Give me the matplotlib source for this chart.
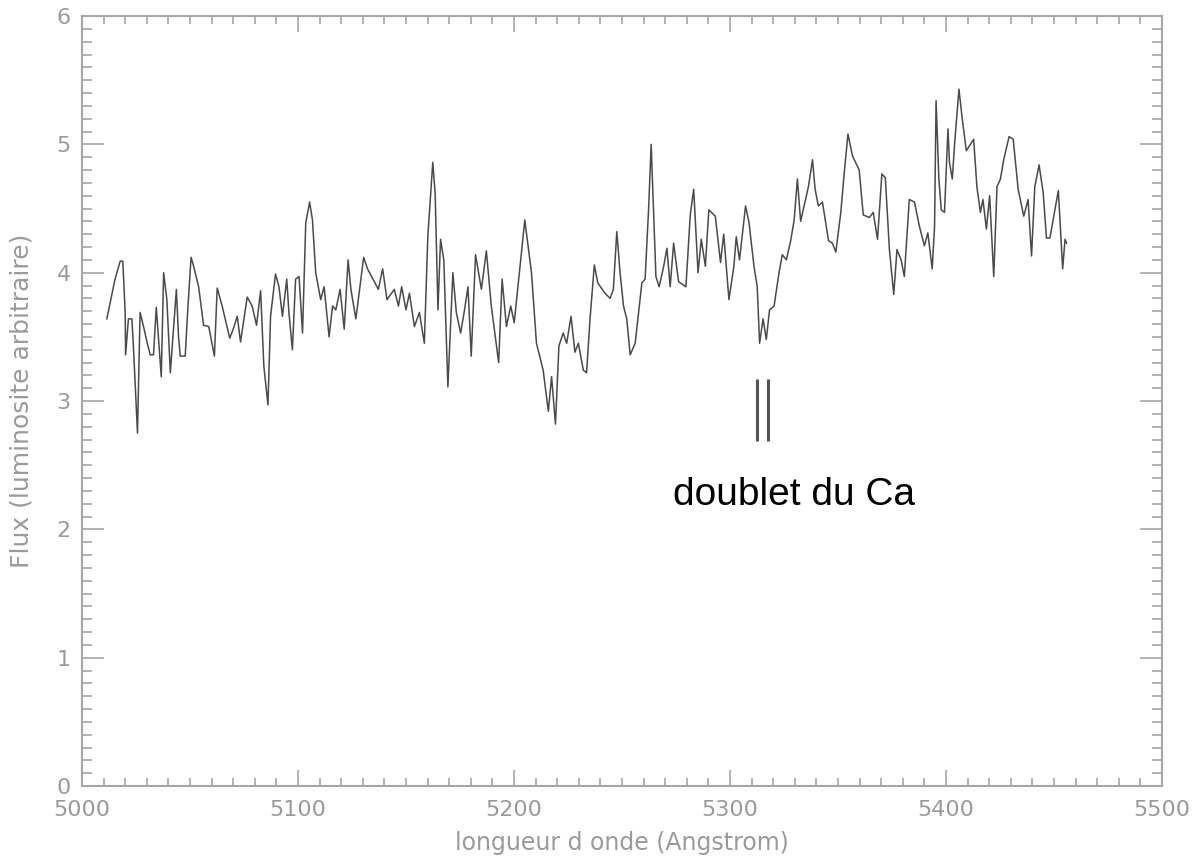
import matplotlib
matplotlib.use("Agg")
import matplotlib.pyplot as plt
from matplotlib.ticker import MultipleLocator

# Spectre (longueur d'onde en Angstrom, flux arbitraire)
longueur = [
    5011.5, 5015.3, 5017.7, 5018.9, 5020.0, 5020.2, 5021.5, 5023.1, 5023.8, 5025.7,
    5026.9, 5028.5, 5030.1, 5031.6, 5033.1, 5034.4, 5035.4, 5036.7, 5037.8, 5039.3,
    5040.9, 5043.7, 5044.7, 5045.5, 5047.8, 5048.9, 5050.5, 5051.7, 5054.0, 5056.3,
    5058.7, 5061.3, 5062.6, 5064.9, 5068.4, 5070.0, 5071.9, 5073.4, 5076.5, 5078.8,
    5080.8, 5082.7, 5084.2, 5086.1, 5087.3, 5089.6, 5091.2, 5092.8, 5094.8, 5095.8,
    5097.4, 5098.9, 5100.5, 5102.1, 5103.6, 5105.4, 5106.7, 5108.2, 5110.5, 5112.1,
    5114.4, 5116.0, 5117.5, 5119.5, 5121.4, 5123.2, 5124.5, 5126.8, 5130.4, 5132.2,
    5135.3, 5137.2, 5139.2, 5141.2, 5144.6, 5146.5, 5148.0, 5150.0, 5151.6, 5153.9,
    5156.2, 5158.5, 5160.1, 5162.4, 5163.5, 5164.8, 5166.0, 5167.5, 5169.4, 5171.7,
    5173.3, 5175.3, 5177.1, 5178.7, 5180.2, 5182.2, 5184.9, 5187.2, 5189.5, 5192.9,
    5194.5, 5196.5, 5198.5, 5200.1, 5202.2, 5205.0, 5208.1, 5210.4, 5213.5, 5215.9,
    5217.4, 5219.2, 5220.8, 5222.8, 5224.4, 5226.4, 5228.2, 5229.8, 5232.1, 5233.6,
    5235.2, 5237.2, 5238.8, 5242.1, 5244.5, 5246.0, 5247.6, 5249.1, 5250.7, 5252.2,
    5253.8, 5256.1, 5257.7, 5259.2, 5260.7, 5262.3, 5263.5, 5264.6, 5265.7, 5267.2,
    5269.3, 5270.8, 5272.3, 5273.9, 5276.2, 5279.6, 5281.6, 5283.2, 5285.2, 5286.7,
    5288.6, 5290.2, 5293.2, 5295.6, 5297.1, 5299.5, 5301.8, 5302.9, 5304.4, 5307.2,
    5308.8, 5311.1, 5312.6, 5313.7, 5315.3, 5316.8, 5318.3, 5320.4, 5322.7, 5324.2,
    5326.1, 5328.1, 5329.7, 5331.2, 5332.7, 5334.3, 5336.3, 5338.2, 5339.4, 5340.9,
    5342.8, 5345.6, 5347.4, 5349.0, 5351.3, 5352.9, 5354.6, 5356.7, 5359.8, 5361.7,
    5364.5, 5366.3, 5368.3, 5370.3, 5371.9, 5373.8, 5375.8, 5377.3, 5379.2, 5380.7,
    5383.0, 5385.4, 5387.7, 5390.0, 5391.6, 5393.6, 5394.7, 5395.4, 5396.7, 5397.8,
    5399.3, 5400.9, 5401.6, 5402.9, 5404.0, 5406.0, 5407.5, 5409.4, 5410.9, 5412.8,
    5414.3, 5415.9, 5417.1, 5418.7, 5420.2, 5422.1, 5423.6, 5425.2, 5426.7, 5429.2,
    5431.1, 5433.4, 5436.0, 5438.0, 5439.6, 5441.1, 5443.1, 5445.0, 5446.5, 5448.1,
    5452.0, 5454.0, 5455.1, 5455.8,
]
flux = [
    3.64, 3.95, 4.09, 4.09, 3.69, 3.36, 3.64, 3.64, 3.43, 2.75,
    3.69, 3.58, 3.46, 3.36, 3.36, 3.73, 3.50, 3.19, 4.00, 3.79,
    3.22, 3.87, 3.50, 3.35, 3.35, 3.69, 4.12, 4.05, 3.89, 3.59,
    3.58, 3.35, 3.88, 3.74, 3.49, 3.56, 3.66, 3.46, 3.81, 3.74,
    3.59, 3.86, 3.27, 2.97, 3.66, 3.99, 3.89, 3.66, 3.95, 3.69,
    3.40, 3.95, 3.97, 3.53, 4.39, 4.55, 4.41, 4.00, 3.79, 3.89,
    3.50, 3.74, 3.71, 3.87, 3.56, 4.10, 3.87, 3.64, 4.12, 4.03,
    3.93, 3.87, 4.03, 3.79, 3.87, 3.74, 3.89, 3.71, 3.84, 3.58,
    3.69, 3.45, 4.28, 4.86, 4.62, 3.71, 4.26, 4.10, 3.11, 4.00,
    3.69, 3.53, 3.71, 3.89, 3.35, 4.14, 3.87, 4.17, 3.74, 3.30,
    3.95, 3.58, 3.74, 3.61, 3.95, 4.41, 4.00, 3.45, 3.24, 2.92,
    3.19, 2.82, 3.43, 3.53, 3.45, 3.66, 3.38, 3.45, 3.24, 3.22,
    3.64, 4.06, 3.92, 3.84, 3.80, 3.87, 4.32, 4.00, 3.74, 3.64,
    3.36, 3.45, 3.69, 3.92, 3.95, 4.49, 5.00, 4.49, 3.97, 3.89,
    4.05, 4.19, 3.89, 4.23, 3.93, 3.89, 4.45, 4.65, 4.00, 4.26,
    4.05, 4.49, 4.44, 4.08, 4.30, 3.79, 4.05, 4.28, 4.10, 4.52,
    4.39, 4.05, 3.89, 3.45, 3.64, 3.48, 3.71, 3.74, 4.00, 4.14,
    4.10, 4.25, 4.41, 4.73, 4.40, 4.52, 4.67, 4.88, 4.65, 4.52,
    4.55, 4.25, 4.23, 4.16, 4.47, 4.78, 5.08, 4.91, 4.80, 4.45,
    4.43, 4.47, 4.26, 4.77, 4.74, 4.18, 3.83, 4.18, 4.10, 3.97,
    4.57, 4.55, 4.36, 4.21, 4.31, 4.03, 4.36, 5.34, 4.73, 4.49,
    4.47, 5.12, 4.86, 4.73, 5.01, 5.43, 5.20, 4.95, 4.99, 5.04,
    4.67, 4.47, 4.57, 4.34, 4.60, 3.97, 4.67, 4.73, 4.88, 5.06,
    5.04, 4.65, 4.44, 4.57, 4.13, 4.67, 4.84, 4.62, 4.27, 4.27,
    4.64, 4.03, 4.26, 4.23,
]

# raies du doublet du calcium
raies_ca = [5312.6, 5317.7]
texte_ca = "doublet du Ca"

gris = "#9a9a9a"

fig = plt.figure(figsize=(11.95, 8.61), dpi=100)
ax = fig.add_axes([0.0686, 0.0871, 0.9038, 0.8943])

ax.plot(longueur, flux, color="#4a4a4a", lw=1.1)

# le doublet
ax.vlines(raies_ca, 2.69, 3.17, color="#555555", lw=2.2)
ax.text(5329.5, 2.19, texte_ca, ha="center", va="baseline",
        fontsize=28, family="Liberation Sans", color="black")

ax.set_xlim(5000, 5500)
ax.set_ylim(0, 6)
ax.xaxis.set_major_locator(MultipleLocator(100))
ax.xaxis.set_minor_locator(MultipleLocator(10))
ax.yaxis.set_major_locator(MultipleLocator(1))
ax.yaxis.set_minor_locator(MultipleLocator(0.1))

for s in ax.spines.values():
    s.set_color("#a6a6a6")
    s.set_linewidth(1.5)

ax.tick_params(which="both", direction="in", top=True, right=True,
               color="#a6a6a6", width=1.2, labelcolor=gris, labelsize=16)
ax.tick_params(axis="x", which="major", length=11.5, pad=10)
ax.tick_params(axis="x", which="minor", length=6)
ax.tick_params(axis="y", which="major", length=16, pad=8)
ax.tick_params(axis="y", which="minor", length=7.5)

ax.set_xlabel("longueur d onde (Angstrom)", color=gris, fontsize=17, labelpad=8)
ax.set_ylabel("Flux (luminosite arbitraire)", color=gris, fontsize=18, labelpad=17)

fig.savefig("out.png", dpi=100)
